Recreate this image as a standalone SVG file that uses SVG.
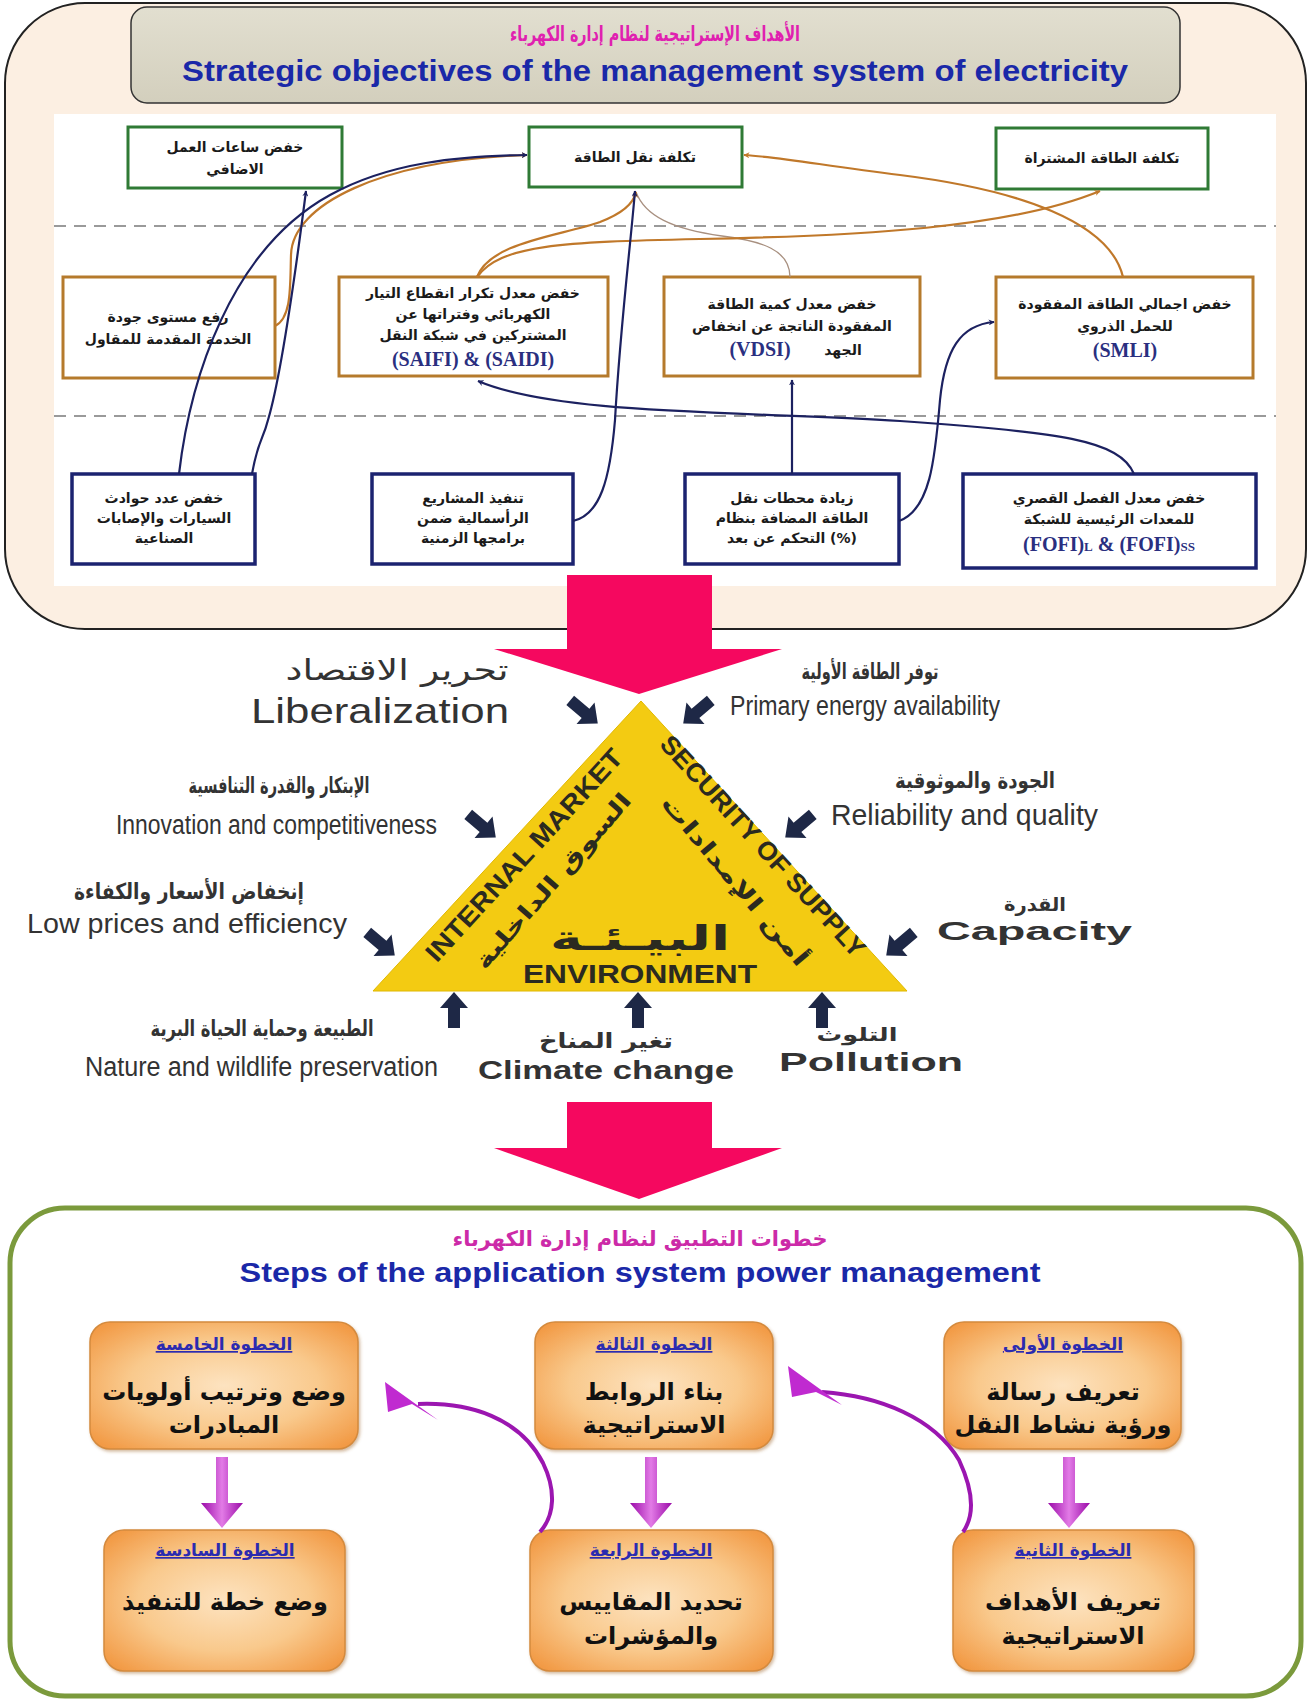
<svg xmlns="http://www.w3.org/2000/svg" xmlns:xlink="http://www.w3.org/1999/xlink" width="1311" height="1702" viewBox="0 0 1311 1702">
  <style>
    .ar { font-family: "DejaVu Sans", "Noto Sans", sans-serif; font-weight: bold; }
    .arl { font-family: "DejaVu Sans", "Noto Sans", sans-serif; }
    .en { font-family: "Liberation Sans", Arial, sans-serif; }
    .ser { font-family: "Liberation Serif", "Times New Roman", serif; font-weight: bold; fill: #2a2f80; }
    .boxtxt { font-size: 14px; fill: #1a1a1a; text-anchor: middle; }
    .green { fill: #ffffff; stroke: #2f7a35; stroke-width: 3; }
    .orange { fill: #ffffff; stroke: #b57a2c; stroke-width: 3; }
    .blue { fill: #ffffff; stroke: #1c2370; stroke-width: 3.5; }
    .dash { stroke: #7a7a7a; stroke-width: 1.6; stroke-dasharray: 12 8; fill: none; }
    .navy { fill: none; stroke: #1c2160; stroke-width: 2.2; }
    .brown { fill: none; stroke: #c0782a; stroke-width: 2.2; }
    .thin { fill: none; stroke: #a89080; stroke-width: 1.3; }
    .lbl { fill: #333333; }
    .step { fill: url(#stepFill); stroke: #d48a3e; stroke-width: 1.5; filter: url(#shadow); }
    .stephead { font-size: 17px; fill: #2b2bb0; text-anchor: middle; text-decoration: underline; }
    .stepbody { font-size: 24px; fill: #111111; text-anchor: middle; }
    .pink { fill: #f5085f; }
    .fat { fill: #1e2846; }
    .tri-en { font-family: "Liberation Sans", Arial, sans-serif; font-weight: bold; fill: #2b2a20; }
    .tri-ar { font-family: "DejaVu Sans", sans-serif; font-weight: bold; fill: #2b2a20; }
  </style>
  <defs>
    <marker id="mNavy" viewBox="0 0 10 10" refX="9" refY="5" markerWidth="6" markerHeight="6" orient="auto" markerUnits="userSpaceOnUse">
      <path d="M0,0 L10,5 L0,10 L3,5 Z" fill="#1c2160"/>
    </marker>
    <marker id="mBrown" viewBox="0 0 10 10" refX="9" refY="5" markerWidth="6" markerHeight="6" orient="auto" markerUnits="userSpaceOnUse">
      <path d="M0,0 L10,5 L0,10 L3,5 Z" fill="#c0782a"/>
    </marker>
    <radialGradient id="stepFill" cx="50%" cy="50%" r="65%">
      <stop offset="0" stop-color="#fde3c0"/>
      <stop offset="0.55" stop-color="#f9c98c"/>
      <stop offset="1" stop-color="#f29a45"/>
    </radialGradient>
    <linearGradient id="headerFill" x1="0" y1="0" x2="0" y2="1">
      <stop offset="0" stop-color="#e2dfd0"/>
      <stop offset="1" stop-color="#d3cfbd"/>
    </linearGradient>
    <linearGradient id="magV" x1="0" y1="0" x2="1" y2="0">
      <stop offset="0" stop-color="#9a0aa8"/>
      <stop offset="0.5" stop-color="#e27be6"/>
      <stop offset="1" stop-color="#9a0aa8"/>
    </linearGradient>
    <filter id="shadow" x="-10%" y="-10%" width="125%" height="130%">
      <feDropShadow dx="1.5" dy="2" stdDeviation="1.5" flood-color="#a06a30" flood-opacity="0.45"/>
    </filter>
    <path id="fat" d="M-18,-6 L2,-6 L2,-14 L18,0 L2,14 L2,6 L-18,6 Z"/>
    <path id="vArrow" d="M-6,0 H6 V46 H21 L0,71 L-21,46 H-6 Z"/>
  </defs>

  <rect width="1311" height="1702" fill="#ffffff"/>

  <!-- ===== Strategic objectives panel ===== -->
  <g id="objectives-panel">
    <rect x="5" y="3" width="1301" height="626" rx="80" ry="80" fill="#fcefe2" stroke="#222" stroke-width="2"/>
    <rect x="54" y="114" width="1222" height="472" fill="#ffffff"/>
    <rect x="131" y="7" width="1049" height="96" rx="16" fill="url(#headerFill)" stroke="#333" stroke-width="1.5"/>
    <text class="ar" x="655" y="41" font-size="21" fill="#e020b0" text-anchor="middle" textLength="290" lengthAdjust="spacingAndGlyphs">الأهداف الإستراتيجية لنظام إدارة الكهرباء</text>
    <text class="en" x="655" y="81" font-size="29" font-weight="bold" fill="#1a28a8" text-anchor="middle" textLength="946" lengthAdjust="spacingAndGlyphs">Strategic objectives of the management system of electricity</text>
    <line class="dash" x1="54" y1="226" x2="1276" y2="226"/>
    <line class="dash" x1="54" y1="416" x2="1276" y2="416"/>
  </g>

  <!-- top row: green cost objectives -->
  <g id="node-overtime">
    <rect class="green" x="128" y="127" width="214" height="61"/>
    <text class="ar boxtxt" x="235" y="152">خفض ساعات العمل</text>
    <text class="ar boxtxt" x="235" y="174">الاضافي</text>
  </g>
  <g id="node-transmission-cost">
    <rect class="green" x="529" y="127" width="213" height="60"/>
    <text class="ar boxtxt" x="635" y="162">تكلفة نقل الطاقة</text>
  </g>
  <g id="node-purchased-cost">
    <rect class="green" x="996" y="128" width="212" height="61"/>
    <text class="ar boxtxt" x="1102" y="163">تكلفة الطاقة المشتراة</text>
  </g>

  <!-- middle row: orange performance objectives -->
  <g id="node-service-quality">
    <rect class="orange" x="63" y="277" width="212" height="101"/>
    <text class="ar boxtxt" x="168" y="322">رفع مستوى جودة</text>
    <text class="ar boxtxt" x="168" y="344">الخدمة المقدمة للمقاول</text>
  </g>
  <g id="node-saifi">
    <rect class="orange" x="339" y="277" width="269" height="99"/>
    <text class="ar boxtxt" x="473" y="298">خفض معدل تكرار انقطاع التيار</text>
    <text class="ar boxtxt" x="473" y="319">الكهربائي وفتراتها عن</text>
    <text class="ar boxtxt" x="473" y="340">المشتركين في شبكة النقل</text>
    <text class="ser" x="473" y="366" font-size="20" text-anchor="middle">(SAIFI) &amp; (SAIDI)</text>
  </g>
  <g id="node-vdsi">
    <rect class="orange" x="664" y="277" width="256" height="99"/>
    <text class="ar boxtxt" x="792" y="309">خفض معدل كمية الطاقة</text>
    <text class="ar boxtxt" x="792" y="331">المفقودة الناتجة عن انخفاض</text>
    <text class="ser" x="760" y="356" font-size="20" text-anchor="middle">(VDSI)</text>
    <text class="ar boxtxt" x="843" y="355">الجهد</text>
  </g>
  <g id="node-smli">
    <rect class="orange" x="996" y="277" width="257" height="101"/>
    <text class="ar boxtxt" x="1125" y="309">خفض اجمالي الطاقة المفقودة</text>
    <text class="ar boxtxt" x="1125" y="331">للحمل الذروي</text>
    <text class="ser" x="1125" y="357" font-size="20" text-anchor="middle">(SMLI)</text>
  </g>

  <!-- bottom row: blue operational objectives -->
  <g id="node-accidents">
    <rect class="blue" x="72" y="474" width="183" height="90"/>
    <text class="ar boxtxt" x="164" y="503">خفض عدد حوادث</text>
    <text class="ar boxtxt" x="164" y="523">السيارات والإصابات</text>
    <text class="ar boxtxt" x="164" y="543">الصناعية</text>
  </g>
  <g id="node-capital-projects">
    <rect class="blue" x="372" y="474" width="201" height="90"/>
    <text class="ar boxtxt" x="473" y="503">تنفيذ المشاريع</text>
    <text class="ar boxtxt" x="473" y="523">الرأسمالية ضمن</text>
    <text class="ar boxtxt" x="473" y="543">برامجها الزمنية</text>
  </g>
  <g id="node-substations">
    <rect class="blue" x="685" y="474" width="214" height="90"/>
    <text class="ar boxtxt" x="792" y="503">زيادة محطات نقل</text>
    <text class="ar boxtxt" x="792" y="523">الطاقة المضافة بنظام</text>
    <text class="ar boxtxt" x="792" y="543">التحكم عن بعد (%)</text>
  </g>
  <g id="node-fofi">
    <rect class="blue" x="963" y="474" width="293" height="94"/>
    <text class="ar boxtxt" x="1109" y="503">خفض معدل الفصل القصري</text>
    <text class="ar boxtxt" x="1109" y="524">للمعدات الرئيسية للشبكة</text>
    <text class="ser" x="1109" y="551" font-size="20" text-anchor="middle">(FOFI)<tspan font-size="13">L</tspan> &amp; (FOFI)<tspan font-size="13">SS</tspan></text>
  </g>

  <!-- links between objectives -->
  <g id="connectors">
    <path class="thin" d="M790,277 C790,250 762,241 722,236 C672,229 645,216 636,192"/>
    <path class="brown" d="M275,326 C292,318 290,285 291,255 C292,205 380,160 527,155" marker-end="url(#mBrown)"/>
    <path class="brown" d="M477,277 C490,242 560,236 600,222 C626,212 634,202 636,192" marker-end="url(#mBrown)"/>
    <path class="brown" d="M477,277 C500,245 560,242 700,239 C860,236 1010,228 1100,191" marker-end="url(#mBrown)"/>
    <path class="brown" d="M1123,277 C1110,222 1020,190 900,175 C820,165 780,157 744,155" marker-end="url(#mBrown)"/>
    <path class="navy" d="M179,474 C190,380 230,250 330,195 C390,162 460,156 527,155" marker-end="url(#mNavy)"/>
    <path class="navy" d="M252,474 C258,440 263,440 268,420 C280,380 292,300 306,191" marker-end="url(#mNavy)"/>
    <path class="navy" d="M573,521 C600,515 610,480 615,420 C620,330 630,250 635,191" marker-end="url(#mNavy)"/>
    <path class="navy" d="M1134,474 C1120,440 1060,432 900,421 C750,411 560,416 478,381" marker-end="url(#mNavy)"/>
    <path class="navy" d="M792,474 L792,380" marker-end="url(#mNavy)"/>
    <path class="navy" d="M899,521 C930,510 935,460 940,400 C945,350 960,325 994,322" marker-end="url(#mNavy)"/>
  </g>

  <!-- ===== Energy policy triangle ===== -->
  <g id="flow-arrow-1">
    <rect class="pink" x="567" y="575" width="145" height="75"/>
    <polygon class="pink" points="494,649 782,649 639,694"/>
  </g>

  <g id="node-triangle">
    <polygon points="641,701 373,991 907,991" fill="#f3cb12" stroke="#e0b800" stroke-width="1"/>
    <g transform="translate(524,855) rotate(-47.5)">
      <text class="tri-en" x="0" y="9" font-size="26" text-anchor="middle" textLength="278" lengthAdjust="spacingAndGlyphs">INTERNAL MARKET</text>
    </g>
    <g transform="translate(552,880) rotate(-49)">
      <text class="tri-ar" x="0" y="9" font-size="22" text-anchor="middle" textLength="225" lengthAdjust="spacingAndGlyphs">السوق الداخلية</text>
    </g>
    <g transform="translate(763,846) rotate(47.5)">
      <text class="tri-en" x="0" y="9" font-size="26" text-anchor="middle" textLength="290" lengthAdjust="spacingAndGlyphs">SECURITY OF SUPPLY</text>
    </g>
    <g transform="translate(736,880) rotate(50)">
      <text class="tri-ar" x="0" y="9" font-size="22" text-anchor="middle" textLength="215" lengthAdjust="spacingAndGlyphs">أمن الإمدادات</text>
    </g>
    <text class="tri-ar" x="640" y="950" font-size="34" text-anchor="middle" textLength="180" lengthAdjust="spacingAndGlyphs">البيـئـة</text>
    <text class="tri-en" x="640" y="983" font-size="25" text-anchor="middle" textLength="234" lengthAdjust="spacingAndGlyphs">ENVIRONMENT</text>
  </g>

  <g id="drivers">
    <use href="#fat" class="fat" transform="translate(584,712) rotate(40)"/>
    <use href="#fat" class="fat" transform="translate(697,712) rotate(140)"/>
    <use href="#fat" class="fat" transform="translate(482,826) rotate(40)"/>
    <use href="#fat" class="fat" transform="translate(799,826) rotate(140)"/>
    <use href="#fat" class="fat" transform="translate(381,944) rotate(40)"/>
    <use href="#fat" class="fat" transform="translate(900,944) rotate(140)"/>
    <use href="#fat" class="fat" transform="translate(454,1010) rotate(-90)"/>
    <use href="#fat" class="fat" transform="translate(638,1010) rotate(-90)"/>
    <use href="#fat" class="fat" transform="translate(822,1010) rotate(-90)"/>
  </g>

  <g id="label-liberalization">
    <text class="arl lbl" x="397" y="680" font-size="29" text-anchor="middle" textLength="223" lengthAdjust="spacingAndGlyphs">تحرير الاقتصاد</text>
    <text class="en lbl" x="380" y="723" font-size="35" text-anchor="middle" textLength="258" lengthAdjust="spacingAndGlyphs">Liberalization</text>
  </g>
  <g id="label-primary-energy">
    <text class="ar lbl" x="870" y="679" font-size="22" text-anchor="middle" textLength="137" lengthAdjust="spacingAndGlyphs">توفر الطاقة الأولية</text>
    <text class="en lbl" x="730" y="715" font-size="27" textLength="270" lengthAdjust="spacingAndGlyphs">Primary energy availability</text>
  </g>
  <g id="label-innovation">
    <text class="ar lbl" x="279" y="793" font-size="22" text-anchor="middle" textLength="181" lengthAdjust="spacingAndGlyphs">الإبتكار والقدرة التنافسية</text>
    <text class="en lbl" x="116" y="834" font-size="27" textLength="321" lengthAdjust="spacingAndGlyphs">Innovation and competitiveness</text>
  </g>
  <g id="label-reliability">
    <text class="ar lbl" x="975" y="788" font-size="22" text-anchor="middle" textLength="160" lengthAdjust="spacingAndGlyphs">الجودة والموثوقية</text>
    <text class="en lbl" x="831" y="825" font-size="29" textLength="267" lengthAdjust="spacingAndGlyphs">Reliability and quality</text>
  </g>
  <g id="label-low-prices">
    <text class="ar lbl" x="189" y="899" font-size="22" text-anchor="middle" textLength="230" lengthAdjust="spacingAndGlyphs">إنخفاض الأسعار والكفاءة</text>
    <text class="en lbl" x="27" y="933" font-size="28" textLength="320" lengthAdjust="spacingAndGlyphs">Low prices and efficiency</text>
  </g>
  <g id="label-capacity">
    <text class="ar lbl" x="1035" y="911" font-size="19" text-anchor="middle" textLength="62" lengthAdjust="spacingAndGlyphs">القدرة</text>
    <text class="en lbl" x="937" y="940" font-size="25" font-weight="bold" textLength="195" lengthAdjust="spacingAndGlyphs">Capacity</text>
  </g>
  <g id="label-nature">
    <text class="ar lbl" x="262" y="1036" font-size="22" text-anchor="middle" textLength="223" lengthAdjust="spacingAndGlyphs">الطبيعة وحماية الحياة البرية</text>
    <text class="en lbl" x="85" y="1076" font-size="27" textLength="353" lengthAdjust="spacingAndGlyphs">Nature and wildlife preservation</text>
  </g>
  <g id="label-climate">
    <text class="ar lbl" x="606" y="1048" font-size="21" text-anchor="middle" textLength="134" lengthAdjust="spacingAndGlyphs">تغير المناخ</text>
    <text class="en lbl" x="478" y="1079" font-size="25" font-weight="bold" textLength="256" lengthAdjust="spacingAndGlyphs">Climate change</text>
  </g>
  <g id="label-pollution">
    <text class="ar lbl" x="857" y="1041" font-size="19" text-anchor="middle" textLength="81" lengthAdjust="spacingAndGlyphs">التلوث</text>
    <text class="en lbl" x="779" y="1071" font-size="25" font-weight="bold" textLength="184" lengthAdjust="spacingAndGlyphs">Pollution</text>
  </g>

  <g id="flow-arrow-2">
    <rect class="pink" x="567" y="1102" width="145" height="47"/>
    <polygon class="pink" points="494,1148 782,1148 639,1199"/>
  </g>

  <!-- ===== Application steps panel ===== -->
  <g id="steps-panel">
    <rect x="10" y="1208" width="1291" height="488" rx="55" ry="55" fill="#ffffff" stroke="#7b9a3c" stroke-width="5"/>
    <text class="ar" x="640" y="1246" font-size="21" fill="#cc2aa8" text-anchor="middle" textLength="375" lengthAdjust="spacingAndGlyphs">خطوات التطبيق لنظام إدارة الكهرباء</text>
    <text class="en" x="640" y="1282" font-size="27" font-weight="bold" fill="#1a28a8" text-anchor="middle" textLength="801" lengthAdjust="spacingAndGlyphs">Steps of the application system power management</text>
  </g>

  <g id="step-1">
    <rect class="step" x="944" y="1322" width="237" height="127" rx="20"/>
    <text class="ar stephead" x="1063" y="1350">الخطوة الأولى</text>
    <text class="ar stepbody" x="1063" y="1400">تعريف رسالة</text>
    <text class="ar stepbody" x="1063" y="1433">ورؤية نشاط النقل</text>
  </g>
  <g id="step-2">
    <rect class="step" x="953" y="1530" width="241" height="141" rx="20"/>
    <text class="ar stephead" x="1073" y="1556">الخطوة الثانية</text>
    <text class="ar stepbody" x="1073" y="1610">تعريف الأهداف</text>
    <text class="ar stepbody" x="1073" y="1644">الاستراتيجية</text>
  </g>
  <g id="step-3">
    <rect class="step" x="535" y="1322" width="238" height="127" rx="20"/>
    <text class="ar stephead" x="654" y="1350">الخطوة الثالثة</text>
    <text class="ar stepbody" x="654" y="1400">بناء الروابط</text>
    <text class="ar stepbody" x="654" y="1433">الاستراتيجية</text>
  </g>
  <g id="step-4">
    <rect class="step" x="530" y="1530" width="243" height="141" rx="20"/>
    <text class="ar stephead" x="651" y="1556">الخطوة الرابعة</text>
    <text class="ar stepbody" x="651" y="1610">تحديد المقاييس</text>
    <text class="ar stepbody" x="651" y="1644">والمؤشرات</text>
  </g>
  <g id="step-5">
    <rect class="step" x="90" y="1322" width="268" height="127" rx="20"/>
    <text class="ar stephead" x="224" y="1350">الخطوة الخامسة</text>
    <text class="ar stepbody" x="224" y="1400">وضع وترتيب أولويات</text>
    <text class="ar stepbody" x="224" y="1433">المبادرات</text>
  </g>
  <g id="step-6">
    <rect class="step" x="104" y="1530" width="241" height="141" rx="20"/>
    <text class="ar stephead" x="225" y="1556">الخطوة السادسة</text>
    <text class="ar stepbody" x="225" y="1610">وضع خطة للتنفيذ</text>
  </g>

  <g id="step-connectors">
    <use href="#vArrow" fill="url(#magV)" transform="translate(1069,1457)"/>
    <use href="#vArrow" fill="url(#magV)" transform="translate(651,1457)"/>
    <use href="#vArrow" fill="url(#magV)" transform="translate(222,1457)"/>
    <path d="M540,1532 C555,1515 556,1490 543,1463 C520,1418 470,1402 418,1404" fill="none" stroke="#9b16b0" stroke-width="4"/>
    <polygon points="385,1382 438,1420 412,1404 388,1412" fill="#c02ad0"/>
    <path d="M963,1532 C975,1515 973,1490 959,1460 C934,1418 880,1396 822,1392" fill="none" stroke="#9b16b0" stroke-width="4"/>
    <polygon points="788,1366 842,1405 816,1392 792,1397" fill="#c02ad0"/>
  </g>
</svg>
